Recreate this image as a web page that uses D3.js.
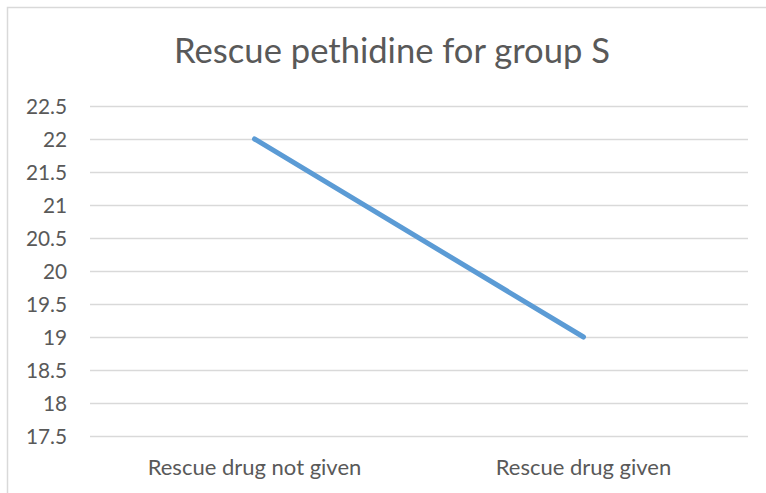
<!DOCTYPE html>
<html>
<head>
<meta charset="utf-8">
<script src="https://cdn.jsdelivr.net/npm/d3@7"></script>
<style>
  html, body { margin: 0; padding: 0; background: #fff; }
  svg { display: block; }
  text { font-family: Lato, "Open Sans", sans-serif; fill: #595959; }
</style>
</head>
<body>
<svg id="chart" width="766" height="493"></svg>
<script>
// Chart data
const categories = ["Rescue drug not given", "Rescue drug given"];
const values = [22, 19];
const yTicks = [17.5, 18, 18.5, 19, 19.5, 20, 20.5, 21, 21.5, 22, 22.5];
const titleText = "Rescue pethidine for group S";

const svg = d3.select("#chart");
const W = 766, H = 493;

// Chart area frame
svg.append("rect")
  .attr("x", 7.5).attr("y", 7.5)
  .attr("width", W + 10).attr("height", H + 10)
  .attr("fill", "#fff")
  .attr("stroke", "#d9d9d9").attr("stroke-width", 1.5);

const plot = { left: 90, right: 748, top: 106, bottom: 436 };

const x = d3.scaleBand().domain(categories).range([plot.left, plot.right]);
const y = d3.scaleLinear().domain([17.5, 22.5]).range([plot.bottom, plot.top]);

// Title
svg.append("text")
  .attr("x", 392).attr("y", 63)
  .attr("text-anchor", "middle")
  .style("font-size", "34.6px")
  .text(titleText);

// Horizontal gridlines
svg.append("g").selectAll("line")
  .data(yTicks).join("line")
  .attr("x1", plot.left).attr("x2", plot.right)
  .attr("y1", d => Math.round(y(d)) + 0.5).attr("y2", d => Math.round(y(d)) + 0.5)
  .attr("stroke", "#d9d9d9").attr("stroke-width", 1.3);

// Y axis labels
const yAxis = d3.axisLeft(y).tickValues(yTicks).tickSize(0).tickPadding(0)
  .tickFormat(d => String(d));
const gy = svg.append("g").attr("transform", `translate(67,0)`).call(yAxis);
gy.select(".domain").remove();
gy.selectAll("text")
  .style("font-size", "20.8px").style("font-family", null)
  .attr("fill", "#595959").attr("dy", "0.38em");

// X axis labels
const xAxis = d3.axisBottom(x).tickSize(0).tickPadding(0);
const gx = svg.append("g").attr("transform", `translate(0,${plot.bottom})`).call(xAxis);
gx.select(".domain").remove();
gx.selectAll("text")
  .style("font-size", "22px").style("font-family", null)
  .attr("fill", "#595959").attr("y", 39).attr("dy", 0);

// Series line
const line = d3.line()
  .x((d, i) => x(categories[i]) + x.bandwidth() / 2)
  .y(d => y(d));
svg.append("path")
  .datum(values)
  .attr("d", line)
  .attr("fill", "none")
  .attr("stroke", "#5b9bd5")
  .attr("stroke-width", 5)
  .attr("stroke-linecap", "round")
  .attr("stroke-linejoin", "round");
</script>
</body>
</html>
